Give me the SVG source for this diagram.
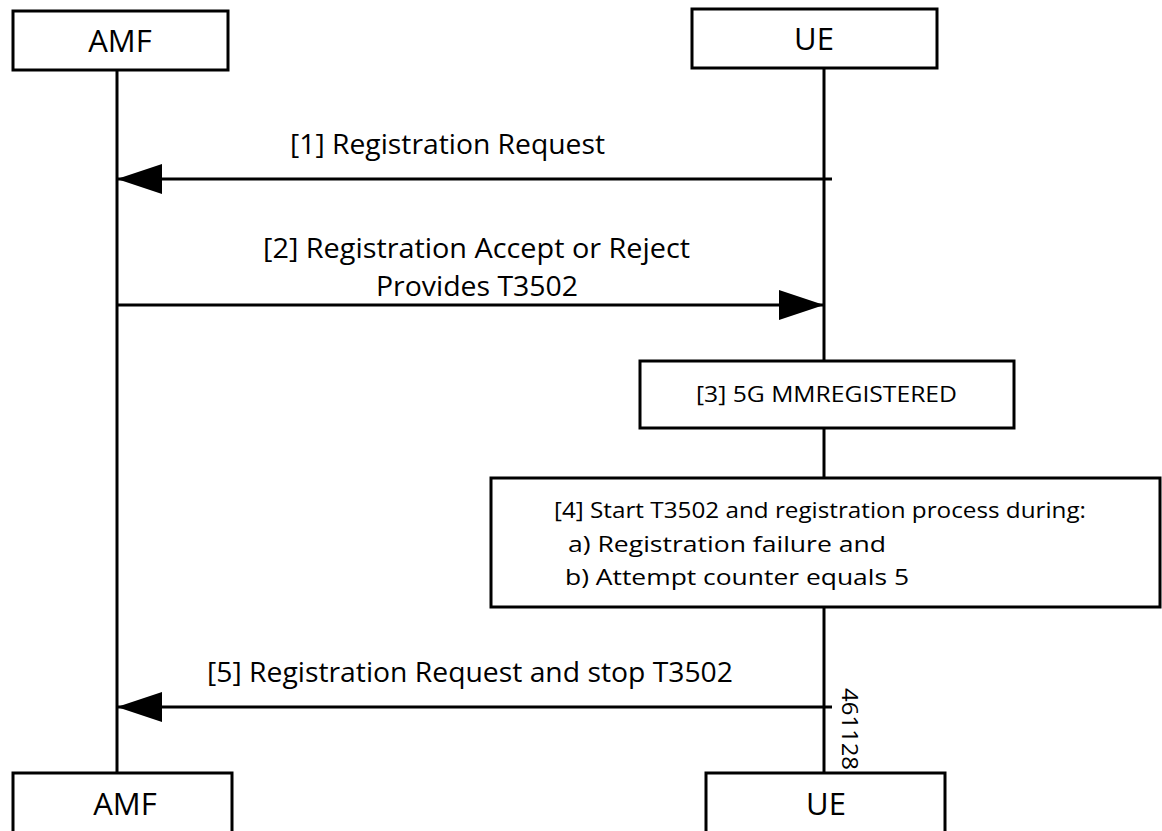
<svg xmlns="http://www.w3.org/2000/svg" width="1162" height="831" viewBox="0 0 1162 831">
<style>
.box{fill:#fff;stroke:#000;stroke-width:3}
.ln{stroke:#000;stroke-width:3;fill:none}
.t{font-family:"Open Sans","Liberation Sans",sans-serif;fill:#000}
.h{font-size:31px}
.m{font-size:27px}
.s{font-size:22px}
</style>
<defs>
<marker id="ah" viewBox="0 0 45 30" refX="45" refY="15" markerWidth="45" markerHeight="30" markerUnits="userSpaceOnUse" orient="auto">
<path d="M0,0 L45,15 L0,30 Z" fill="#000"/>
</marker>
</defs>
<g id="lifelines">
<line class="ln" x1="117" y1="70" x2="117" y2="773"/>
<line class="ln" x1="824" y1="68" x2="824" y2="361"/>
<line class="ln" x1="824" y1="428" x2="824" y2="478"/>
<line class="ln" x1="824" y1="607" x2="824" y2="773"/>
</g>
<g id="amf-top"><rect class="box" x="13" y="11" width="215" height="59"/><text class="t h" x="120" y="52" text-anchor="middle">AMF</text></g>
<g id="ue-top"><rect class="box" x="692" y="9" width="245" height="59"/><text class="t h" x="814" y="50" text-anchor="middle">UE</text></g>
<g id="connectors">
<line class="ln" x1="832" y1="179" x2="117" y2="179" marker-end="url(#ah)"/>
<line class="ln" x1="117" y1="305" x2="824" y2="305" marker-end="url(#ah)"/>
<line class="ln" x1="832" y1="707" x2="117" y2="707" marker-end="url(#ah)"/>
</g>
<g id="labels">
<text class="t m" x="290" y="154" textLength="315" lengthAdjust="spacingAndGlyphs">[1] Registration Request</text>
<text class="t m" x="263" y="258" textLength="427" lengthAdjust="spacingAndGlyphs">[2] Registration Accept or Reject</text>
<text class="t m" x="376" y="296" textLength="202" lengthAdjust="spacingAndGlyphs">Provides T3502</text>
<text class="t m" x="207" y="682" textLength="526" lengthAdjust="spacingAndGlyphs">[5] Registration Request and stop T3502</text>
</g>
<g id="state3"><rect class="box" x="640" y="361" width="374" height="67"/><text class="t s" x="696" y="402" textLength="261" lengthAdjust="spacingAndGlyphs">[3] 5G MMREGISTERED</text></g>
<g id="step4"><rect class="box" x="491" y="478" width="669" height="129"/>
<text class="t s" x="554" y="518" textLength="532" lengthAdjust="spacingAndGlyphs">[4] Start T3502 and registration process during:</text>
<text class="t s" x="568" y="552" textLength="318" lengthAdjust="spacingAndGlyphs">a) Registration failure and</text>
<text class="t s" x="565" y="585" textLength="344" lengthAdjust="spacingAndGlyphs">b) Attempt counter equals 5</text></g>
<g id="amf-bottom"><rect class="box" x="13" y="773" width="219" height="70"/><text class="t h" x="125" y="815" text-anchor="middle">AMF</text></g>
<g id="ue-bottom"><rect class="box" x="706" y="773" width="239" height="70"/><text class="t h" x="826" y="815" text-anchor="middle">UE</text></g>
<text class="t s" transform="translate(842,688) rotate(90)" textLength="82" lengthAdjust="spacingAndGlyphs">461128</text>
</svg>
